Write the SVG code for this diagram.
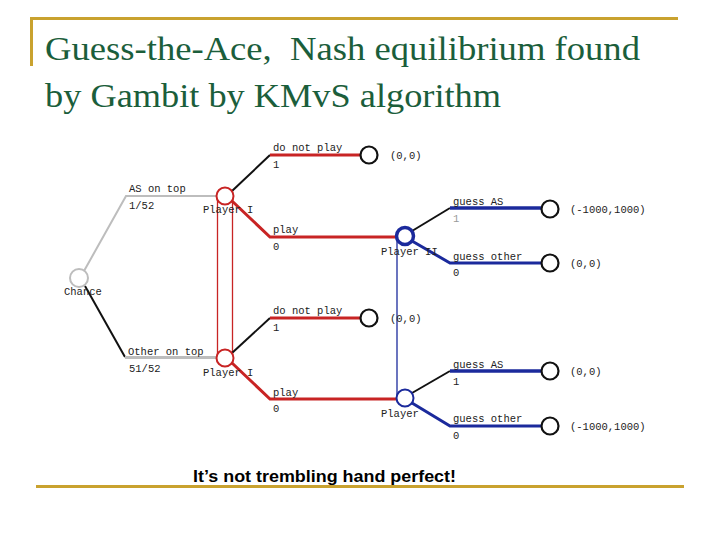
<svg xmlns="http://www.w3.org/2000/svg" width="720" height="540" viewBox="0 0 720 540">
<style>
.title{font-family:"Liberation Serif","Times New Roman",serif;font-size:34px;fill:#1B5E3B;white-space:pre}
.m{font-family:"Liberation Mono","Courier New",monospace;font-size:10.5px;fill:#222}
.g{fill:#999}
.cap{font-family:"Liberation Sans",Arial,sans-serif;font-size:16px;font-weight:bold;fill:#000}
.rule{stroke:#C9A22F;stroke-width:3;fill:none}
.red{stroke:#C82424;stroke-width:3;fill:none}
.blk{stroke:#111;stroke-width:2;fill:none}
.blue{stroke:#1B2A9C;stroke-width:3.5;fill:none}
.gray{stroke:#BDBDBD;stroke-width:2;fill:none}
.term{fill:#fff;stroke:#111;stroke-width:2.2}
</style>
<rect width="720" height="540" fill="#fff"/>
<g id="frame">
<path class="rule" d="M30 18.5H678M31.5 17V66"/>
<path class="rule" d="M36 486.5H684"/>
</g>
<g id="title">
<text class="title" x="45" y="60" xml:space="preserve" textLength="595" lengthAdjust="spacingAndGlyphs">Guess-the-Ace,  Nash equilibrium found</text>
<text class="title" x="45" y="107" textLength="456" lengthAdjust="spacingAndGlyphs">by Gambit by KMvS algorithm</text>
</g>
<g id="connectors">
<path class="gray" d="M84 271L126 196H217"/>
<path class="blk" d="M85 286L125 357"/>
<path class="gray" d="M125 357.5H217" style="stroke-width:3"/>
<path d="M217.5 196V358M232.5 196V358" stroke="#C82424" stroke-width="1.3" fill="none"/>
<path class="blk" d="M232 191L270 155"/>
<path class="red" d="M270 155H360"/>
<path class="red" d="M232 201L270 237H396"/>
<path class="blk" d="M232 353L270 318"/>
<path class="red" d="M270 318H360"/>
<path class="red" d="M232 363L270 399H396"/>
<path d="M397 236V398" stroke="#1B2A9C" stroke-width="1.3" fill="none"/>
<path class="blk" d="M412 231L450 208"/>
<path class="blue" d="M450 208H541"/>
<path class="blue" d="M412 241L450 263H541" style="stroke-width:3"/>
<path class="blk" d="M412 393L450 371"/>
<path class="blue" d="M450 371H541"/>
<path class="blue" d="M412 403L450 426H541" style="stroke-width:3"/>
</g>
<g id="chance">
<circle cx="79" cy="278" r="9" fill="#fff" stroke="#BDBDBD" stroke-width="2"/>
<text class="m" x="64" y="295">Chance</text>
<text class="m" x="129" y="192">AS on top</text>
<text class="m" x="129" y="209">1/52</text>
<text class="m" x="128" y="355">Other on top</text>
<text class="m" x="129" y="372">51/52</text>
</g>
<g id="p1a">
<circle cx="225" cy="196" r="8.5" fill="#fff" stroke="#C82424" stroke-width="2"/>
<text class="m" x="203" y="213">Player I</text>
<text class="m" x="273" y="151">do not play</text>
<text class="m" x="273" y="168">1</text>
<text class="m" x="273" y="233">play</text>
<text class="m" x="273" y="250">0</text>
</g>
<g id="p1b">
<circle cx="225" cy="358" r="8.5" fill="#fff" stroke="#C82424" stroke-width="2"/>
<text class="m" x="203" y="376">Player I</text>
<text class="m" x="273" y="314">do not play</text>
<text class="m" x="273" y="331">1</text>
<text class="m" x="273" y="396">play</text>
<text class="m" x="273" y="412">0</text>
</g>
<g id="t1">
<circle class="term" cx="369" cy="155" r="8.5"/>
<text class="m" x="390" y="159">(0,0)</text>
</g>
<g id="t2">
<circle class="term" cx="369" cy="318" r="8.5"/>
<text class="m" x="390" y="322">(0,0)</text>
</g>
<g id="p2a">
<circle cx="405" cy="236" r="8.5" fill="#fff" stroke="#1B2A9C" stroke-width="3.5"/>
<text class="m" x="381" y="255">Player II</text>
<text class="m" x="453" y="205">guess AS</text>
<text class="m g" x="453" y="222">1</text>
<text class="m" x="453" y="260">guess other</text>
<text class="m" x="453" y="276">0</text>
</g>
<g id="p2b">
<circle cx="405" cy="398" r="8.5" fill="#fff" stroke="#1B2A9C" stroke-width="2"/>
<text class="m" x="381" y="417">Player</text>
<text class="m" x="453" y="368">guess AS</text>
<text class="m" x="453" y="385">1</text>
<text class="m" x="453" y="422">guess other</text>
<text class="m" x="453" y="439">0</text>
</g>
<g id="t3">
<circle class="term" cx="550" cy="209" r="8.5"/>
<text class="m" x="570" y="213">(-1000,1000)</text>
</g>
<g id="t4">
<circle class="term" cx="550" cy="263" r="8.5"/>
<text class="m" x="570" y="267">(0,0)</text>
</g>
<g id="t5">
<circle class="term" cx="550" cy="371" r="8.5"/>
<text class="m" x="570" y="375">(0,0)</text>
</g>
<g id="t6">
<circle class="term" cx="550" cy="426" r="8.5"/>
<text class="m" x="570" y="430">(-1000,1000)</text>
</g>
<g id="caption">
<text class="cap" x="193" y="482" textLength="263" lengthAdjust="spacingAndGlyphs">It’s not trembling hand perfect!</text>
</g>
</svg>
